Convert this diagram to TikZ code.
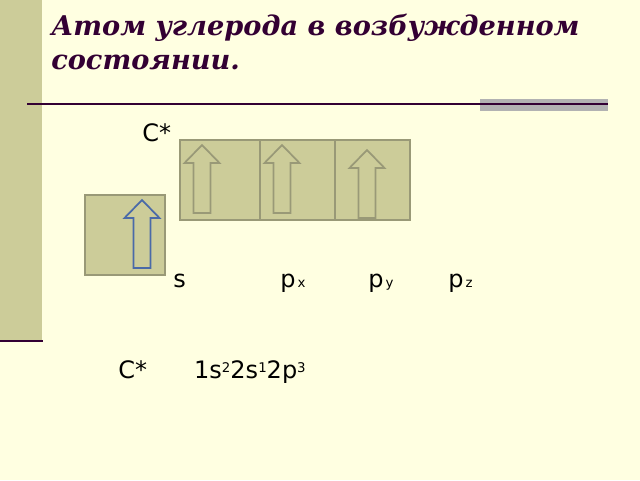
\documentclass[tikz,border=0pt]{standalone}
\usepackage{fontspec}
\setmainfont{DejaVu Sans}
\newfontfamily\titlefont{DejaVu Serif}
\usetikzlibrary{positioning}
\definecolor{paper}{HTML}{FFFFE1}
\definecolor{olive}{HTML}{CCCC99}
\definecolor{oliveline}{HTML}{999977}
\definecolor{plum}{HTML}{330033}
\definecolor{spinblue}{HTML}{4A6AA8}
\tikzset{
x=0.75pt, y=-0.75pt,
cell/.style={draw=oliveline, fill=olive, line width=1.5pt, inner sep=0pt, outer sep=0pt},
label/.style={font=\fontsize{18}{20}\selectfont, inner sep=0pt, anchor=base west},
pics/spin/.style={code={
        \draw[line width=1.3pt, #1] (0,0) -- (17.5,18) -- (8.5,18) -- (8.5,68)
            -- (-8.5,68) -- (-8.5,18) -- (-17.5,18) -- cycle;
}},
}

\begin{document}
\begin{tikzpicture}
            \fill[paper] (0,0) rectangle (640,480);
            \useasboundingbox (0,0) rectangle (640,480);
            \fill[olive] (0,0) rectangle (42,340);
            \draw[plum, line width=2.2pt] (0,341) -- (43,341);

            % Title
            \node[font=\titlefont\bfseries\itshape\fontsize{20.4}{25.5}\selectfont, text=plum,
                  align=left, anchor=north west, inner sep=0pt] (title) at (51,14)
                  {Атом углерода в возбужденном\\состоянии.};
            \fill[black!30] (480,99) rectangle (608,111);
            \draw[plum, line width=1.2pt] (27,104) -- (608,104);

            % Cells
            \node[cell, minimum width=60pt, minimum height=60pt, anchor=north west] (px) at (180,140) {};
            \node[cell, minimum width=56.25pt, minimum height=60pt, anchor=west] (py) at (px.east) {};
            \node[cell, minimum width=56.25pt, minimum height=60pt, anchor=west] (pz) at (py.east) {};
            \node[cell, minimum width=60pt, minimum height=60pt, anchor=north west] (s) at (85,195) {};

            % Spins
            \pic at (202,145) {spin=oliveline};
            \pic at (282,145) {spin=oliveline};
            \pic at (367,150) {spin=oliveline};
            \pic at (142,200) {spin=spinblue};

            % Labels
            \node[label] (cstar) at (142,141) {C*};
            \node[label] (slab) at (173,287) {s};
            \node[label] (pxlab) at (280,287) {p{\fontsize{10}{11}\selectfont\,x}};
            \node[label] (pylab) at (368,287) {p{\fontsize{10}{11}\selectfont\,y}};
            \node[label] (pzlab) at (448,287) {p{\fontsize{10}{11}\selectfont\,z}};

            % Configuration
            \node[label] (conf) at (118,378) {C*};
            \node[label, right=35pt of conf.base east, anchor=base west] (shells)
                  {1s\raisebox{4.5pt}{\fontsize{10}{11}\selectfont 2}2s\raisebox{4.5pt}{\fontsize{10}{11}\selectfont 1}2p\raisebox{4.5pt}{\fontsize{10}{11}\selectfont 3}};
\end{tikzpicture}
\end{document}
